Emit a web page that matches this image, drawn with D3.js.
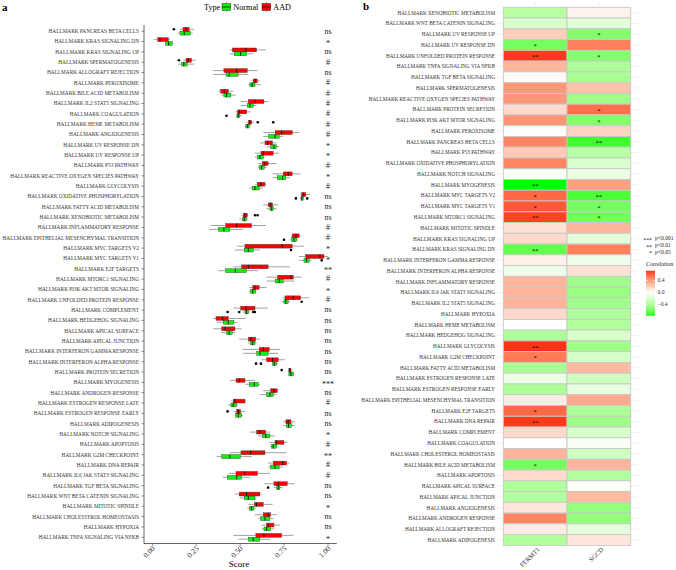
<!DOCTYPE html>
<html><head><meta charset="utf-8">
<script src="https://cdn.jsdelivr.net/npm/d3@7"></script>
<style>body{margin:0;background:#fff}svg{display:block;font-family:"Liberation Serif","Times New Roman",serif}</style>
</head><body><svg id="c" width="676" height="570"></svg>
<script>
const leftCats = ["HALLMARK PANCREAS BETA CELLS","HALLMARK KRAS SIGNALING DN","HALLMARK KRAS SIGNALING UP","HALLMARK SPERMATOGENESIS","HALLMARK ALLOGRAFT REJECTION","HALLMARK PEROXISOME","HALLMARK BILE ACID METABOLISM","HALLMARK IL2 STAT5 SIGNALING","HALLMARK COAGULATION","HALLMARK HEME METABOLISM",
"HALLMARK ANGIOGENESIS","HALLMARK UV RESPONSE DN","HALLMARK UV RESPONSE UP","HALLMARK P53 PATHWAY","HALLMARK REACTIVE OXYGEN SPECIES PATHWAY","HALLMARK GLYCOLYSIS","HALLMARK OXIDATIVE PHOSPHORYLATION","HALLMARK FATTY ACID METABOLISM","HALLMARK XENOBIOTIC METABOLISM","HALLMARK INFLAMMATORY RESPONSE",
"HALLMARK EPITHELIAL MESENCHYMAL TRANSITION","HALLMARK MYC TARGETS V2","HALLMARK MYC TARGETS V1","HALLMARK E2F TARGETS","HALLMARK MTORC1 SIGNALING","HALLMARK PI3K AKT MTOR SIGNALING","HALLMARK UNFOLDED PROTEIN RESPONSE","HALLMARK COMPLEMENT","HALLMARK HEDGEHOG SIGNALING","HALLMARK APICAL SURFACE",
"HALLMARK APICAL JUNCTION","HALLMARK INTERFERON GAMMA RESPONSE","HALLMARK INTERFERON ALPHA RESPONSE","HALLMARK PROTEIN SECRETION","HALLMARK MYOGENESIS","HALLMARK ANDROGEN RESPONSE","HALLMARK ESTROGEN RESPONSE LATE","HALLMARK ESTROGEN RESPONSE EARLY","HALLMARK ADIPOGENESIS","HALLMARK NOTCH SIGNALING",
"HALLMARK APOPTOSIS","HALLMARK G2M CHECKPOINT","HALLMARK DNA REPAIR","HALLMARK IL6 JAK STAT3 SIGNALING","HALLMARK TGF BETA SIGNALING","HALLMARK WNT BETA CATENIN SIGNALING","HALLMARK MITOTIC SPINDLE","HALLMARK CHOLESTEROL HOMEOSTASIS","HALLMARK HYPOXIA","HALLMARK TNFA SIGNALING VIA NFKB"];

// [lower whisker, Q1, median, Q3, upper whisker]
const aadStats = [[0.157,0.174,0.191,0.209,0.236],[0.010,0.030,0.043,0.090,0.100],[0.441,0.455,0.532,0.593,0.646],[0.175,0.191,0.204,0.223,0.246],[0.346,0.407,0.480,0.540,0.599],[0.565,0.574,0.585,0.597,0.612],[0.375,0.388,0.409,0.432,0.460],[0.502,0.546,0.584,0.635,0.660],[0.470,0.485,0.494,0.537,0.559],[0.536,0.546,0.555,0.565,0.580],
[0.631,0.699,0.736,0.796,0.834],[0.612,0.641,0.656,0.684,0.707],[0.584,0.618,0.631,0.688,0.722],[0.602,0.625,0.641,0.659,0.707],[0.684,0.745,0.773,0.796,0.844],[0.584,0.597,0.616,0.641,0.650],[0.840,0.850,0.859,0.874,0.897],[0.631,0.659,0.673,0.684,0.716],[0.508,0.517,0.527,0.540,0.546],[0.333,0.417,0.480,0.565,0.646],
[0.789,0.796,0.817,0.836,0.844],[0.483,0.527,0.739,0.796,0.864],[0.834,0.872,0.954,0.977,1.001],[0.460,0.508,0.546,0.659,0.783],[0.650,0.713,0.789,0.802,0.850],[0.551,0.571,0.584,0.608,0.650],[0.741,0.755,0.802,0.844,0.893],[0.460,0.502,0.532,0.584,0.656],[0.346,0.362,0.400,0.432,0.532],[0.346,0.394,0.413,0.470,0.508],
[0.494,0.546,0.561,0.588,0.612],[0.514,0.608,0.631,0.665,0.726],[0.622,0.650,0.684,0.717,0.755],[0.773,0.777,0.783,0.789,0.798],[0.441,0.476,0.494,0.527,0.584],[0.631,0.673,0.692,0.711,0.716],[0.447,0.460,0.470,0.527,0.536],[0.466,0.479,0.489,0.502,0.527],[0.745,0.760,0.773,0.789,0.811],[0.555,0.593,0.612,0.645,0.669],
[0.665,0.698,0.707,0.749,0.768],[0.441,0.504,0.559,0.641,0.764],[0.660,0.688,0.741,0.764,0.779],[0.432,0.476,0.527,0.599,0.669],[0.637,0.692,0.717,0.768,0.808],[0.470,0.494,0.536,0.612,0.622],[0.546,0.580,0.593,0.631,0.684],[0.584,0.631,0.659,0.673,0.707],[0.622,0.650,0.659,0.692,0.726],[0.460,0.589,0.635,0.736,0.802]];

const normalStats = [[0.144,0.157,0.181,0.216,0.229],[0.071,0.075,0.092,0.113,0.118],[0.441,0.466,0.502,0.536,0.574],[0.147,0.166,0.179,0.198,0.238],[0.346,0.419,0.437,0.489,0.546],[0.546,0.555,0.568,0.584,0.618],[0.394,0.407,0.422,0.447,0.474],[0.502,0.540,0.555,0.574,0.593],[0.476,0.481,0.489,0.498,0.508],[0.526,0.532,0.542,0.551,0.560],
[0.631,0.662,0.698,0.722,0.745],[0.650,0.673,0.692,0.707,0.722],[0.584,0.599,0.612,0.631,0.641],[0.602,0.608,0.622,0.637,0.650],[0.684,0.711,0.741,0.760,0.783],[0.551,0.568,0.584,0.608,0.631],[0.842,0.846,0.851,0.859,0.863],[0.650,0.669,0.679,0.688,0.707],[0.494,0.514,0.523,0.536,0.546],[0.323,0.375,0.407,0.441,0.517],
[0.784,0.793,0.806,0.821,0.830],[0.470,0.523,0.546,0.574,0.612],[0.836,0.863,0.878,0.893,0.907],[0.375,0.417,0.472,0.536,0.603],[0.650,0.699,0.722,0.745,0.808],[0.551,0.559,0.571,0.588,0.593],[0.736,0.749,0.760,0.773,0.783],[0.518,0.527,0.536,0.546,0.556],[0.366,0.403,0.432,0.464,0.485],[0.390,0.422,0.437,0.455,0.470],
[0.546,0.559,0.571,0.584,0.593],[0.517,0.593,0.612,0.659,0.716],[0.679,0.684,0.694,0.707,0.716],[0.773,0.777,0.789,0.802,0.808],[0.527,0.551,0.580,0.603,0.612],[0.612,0.650,0.669,0.688,0.707],[0.432,0.447,0.460,0.479,0.489],[0.470,0.474,0.489,0.508,0.514],[0.745,0.764,0.775,0.793,0.811],[0.602,0.627,0.646,0.669,0.698],
[0.669,0.679,0.688,0.707,0.716],[0.366,0.394,0.441,0.502,0.565],[0.660,0.673,0.698,0.722,0.745],[0.400,0.426,0.480,0.508,0.555],[0.692,0.707,0.717,0.726,0.740],[0.498,0.523,0.546,0.584,0.593],[0.540,0.551,0.565,0.578,0.590],[0.603,0.616,0.641,0.669,0.690],[0.622,0.635,0.650,0.673,0.694],[0.489,0.546,0.574,0.612,0.673]];

// [row index, value]
const aadOutliers = [[0,0.122],[3,0.151],[9,0.600],[9,0.688],[18,0.584],[18,0.599],[33,0.736],[37,0.428]];
const normalOutliers = [[8,0.422],[16,0.817],[16,0.882],[20,0.749],[21,0.789],[22,0.964],[26,0.850],[27,0.428],[27,0.494],[27,0.574],[27,0.584],[32,0.590],[32,0.618],[44,0.659]];

const sigLabels = ["ns","*","ns","#","ns","#","#","#","#","#",
"#","*","*","#","*","#","ns","ns","ns","#",
"#","*","*","**","#","*","#","ns","ns","ns",
"ns","ns","ns","ns","***","ns","#","ns","ns","*",
"#","**","#","#","ns","ns","*","ns","ns","*"];

const scoreTicks = [0, 0.25, 0.5, 0.75, 1.0];
const groups = ["Normal","AAD"];

const heatRows = ["HALLMARK XENOBIOTIC METABOLISM","HALLMARK WNT BETA CATENIN SIGNALING","HALLMARK UV RESPONSE UP","HALLMARK UV RESPONSE DN","HALLMARK UNFOLDED PROTEIN RESPONSE","HALLMARK TNFA SIGNALING VIA NFKB","HALLMARK TGF BETA SIGNALING","HALLMARK SPERMATOGENESIS","HALLMARK REACTIVE OXYGEN SPECIES PATHWAY","HALLMARK PROTEIN SECRETION",
"HALLMARK PI3K AKT MTOR SIGNALING","HALLMARK PEROXISOME","HALLMARK PANCREAS BETA CELLS","HALLMARK P53 PATHWAY","HALLMARK OXIDATIVE PHOSPHORYLATION","HALLMARK NOTCH SIGNALING","HALLMARK MYOGENESIS","HALLMARK MYC TARGETS V2","HALLMARK MYC TARGETS V1","HALLMARK MTORC1 SIGNALING",
"HALLMARK MITOTIC SPINDLE","HALLMARK KRAS SIGNALING UP","HALLMARK KRAS SIGNALING DN","HALLMARK INTERFERON GAMMA RESPONSE","HALLMARK INTERFERON ALPHA RESPONSE","HALLMARK INFLAMMATORY RESPONSE","HALLMARK IL6 JAK STAT3 SIGNALING","HALLMARK IL2 STAT5 SIGNALING","HALLMARK HYPOXIA","HALLMARK HEME METABOLISM",
"HALLMARK HEDGEHOG SIGNALING","HALLMARK GLYCOLYSIS","HALLMARK G2M CHECKPOINT","HALLMARK FATTY ACID METABOLISM","HALLMARK ESTROGEN RESPONSE LATE","HALLMARK ESTROGEN RESPONSE EARLY","HALLMARK EPITHELIAL MESENCHYMAL TRANSITION","HALLMARK E2F TARGETS","HALLMARK DNA REPAIR","HALLMARK COMPLEMENT",
"HALLMARK COAGULATION","HALLMARK CHOLESTEROL HOMEOSTASIS","HALLMARK BILE ACID METABOLISM","HALLMARK APOPTOSIS","HALLMARK APICAL SURFACE","HALLMARK APICAL JUNCTION","HALLMARK ANGIOGENESIS","HALLMARK ANDROGEN RESPONSE","HALLMARK ALLOGRAFT REJECTION","HALLMARK ADIPOGENESIS"];
const genes = ["FERMT1","SGCD"];
const fermt1Vals = [-0.35,-0.2,0.2,-0.6,0.7,0.3,0.02,0.42,0.42,0.15,
0.42,0.01,0.48,0.22,0.48,-0.05,-0.77,0.58,0.63,0.68,
0.12,0.15,-0.65,0.06,-0.08,0.3,0.3,0.3,0.15,0.0,
-0.4,0.72,0.52,-0.42,-0.1,-0.4,0.08,0.58,0.7,0.15,
0.0,0.3,-0.6,0.15,-0.38,-0.38,0.1,0.48,0.08,-0.38];
const sgcdVals = [0.05,-0.15,-0.55,0.5,-0.55,-0.4,-0.42,0.25,-0.45,0.55,
-0.55,0.18,-0.72,-0.35,-0.2,-0.1,0.38,-0.7,-0.6,-0.6,
0.3,-0.15,0.5,-0.08,0.12,-0.45,-0.48,-0.45,-0.38,-0.38,
-0.2,-0.45,-0.22,0.28,-0.25,-0.12,0.35,-0.4,-0.45,-0.2,
-0.04,-0.25,0.3,-0.38,-0.03,0.28,-0.5,-0.5,-0.15,0.1];
const fermt1Sig = ["","","","*","**","","","","","",
"","","","","","","**","*","*","**",
"","","**","","","","","","","",
"","**","*","","","","","*","**","",
"","","*","","","","","","",""];
const sgcdSig = ["","","*","","*","","","","","*",
"*","","**","","","","","**","*","*",
"","","","","","","","","","",
"","","","","","","","","","",
"","","","","","","","","",""];
const sigKey = [["***","p<0.001"],["**","p<0.01"],["*","p<0.05"]];
const corTicks = [0.4, 0.0, -0.4];

const svg = d3.select("#c");
const FILL = {AAD:"#FF0000", Normal:"#11EE11"};

// ---------- Panel a ----------
const x = d3.scaleLinear().domain([-0.048, 1.05]).range([144, 336.8]);
const y = d3.scalePoint().domain(leftCats).range([25, 543.5]).padding(0.6);
const step = y.step();
const bw = step*0.75/2;

svg.append("text").attr("x",2).attr("y",11).attr("font-size",11).attr("font-weight","bold").text("a");

const ga = svg.append("g");
ga.selectAll("text.cat").data(leftCats).join("text")
  .attr("x",139).attr("y",d=>y(d)).attr("dy","0.35em").attr("text-anchor","end")
  .attr("font-size",5.3).attr("fill","#333").text(d=>d);
ga.selectAll("line.ytick").data(leftCats).join("line")
  .attr("x1",141.3).attr("x2",144).attr("y1",d=>y(d)).attr("y2",d=>y(d)).attr("stroke","#333").attr("stroke-width",0.5);

function drawBoxes(stats, grp, off){
  const g = ga.append("g");
  stats.forEach((s,i)=>{
    const cy = y(leftCats[i]) + off;
    g.append("line").attr("x1",x(s[0])).attr("x2",x(s[1])).attr("y1",cy).attr("y2",cy).attr("stroke","#8a8a8a").attr("stroke-width",0.8);
    g.append("line").attr("x1",x(s[3])).attr("x2",x(s[4])).attr("y1",cy).attr("y2",cy).attr("stroke","#8a8a8a").attr("stroke-width",0.8);
    g.append("rect").attr("x",x(s[1])).attr("y",cy-bw/2).attr("width",x(s[3])-x(s[1])).attr("height",bw)
      .attr("fill",FILL[grp]).attr("stroke","#3a3a3a").attr("stroke-width",0.4);
    g.append("line").attr("x1",x(s[2])).attr("x2",x(s[2])).attr("y1",cy-bw/2).attr("y2",cy+bw/2).attr("stroke","#111").attr("stroke-width",0.9);
  });
}
drawBoxes(normalStats,"Normal", bw/2);
drawBoxes(aadStats,"AAD", -bw/2);
ga.selectAll("circle.oa").data(aadOutliers).join("circle")
  .attr("cx",d=>x(d[1])).attr("cy",d=>y(leftCats[d[0]])-bw/2).attr("r",1.3).attr("fill","#000");
ga.selectAll("circle.on").data(normalOutliers).join("circle")
  .attr("cx",d=>x(d[1])).attr("cy",d=>y(leftCats[d[0]])+bw/2).attr("r",1.3).attr("fill","#000");

// significance
ga.selectAll("text.sig").data(sigLabels).join("text")
  .attr("x",x(1.0)).attr("y",(d,i)=>y(leftCats[i]) + (d.startsWith("*")?4.2:2.4)).attr("text-anchor","middle")
  .attr("font-size",8).attr("fill","#222").text(d=>d);

// axes
ga.append("line").attr("x1",144).attr("x2",144).attr("y1",25).attr("y2",543.5).attr("stroke","#000").attr("stroke-width",0.6);
ga.append("line").attr("x1",144).attr("x2",336.8).attr("y1",543.5).attr("y2",543.5).attr("stroke","#000").attr("stroke-width",0.6);
ga.selectAll("line.xt").data(scoreTicks).join("line").attr("x1",d=>x(d)).attr("x2",d=>x(d)).attr("y1",543.5).attr("y2",546).attr("stroke","#333").attr("stroke-width",0.5);
ga.selectAll("text.xt").data(scoreTicks).join("text")
  .attr("transform",d=>`translate(${x(d)+3},${549}) rotate(-45)`).attr("text-anchor","end")
  .attr("font-size",7.5).attr("fill","#333").text(d=>d3.format(".2f")(d));
ga.append("text").attr("x",239).attr("y",567).attr("text-anchor","middle").attr("font-size",9).text("Score");

// legend
const lg = svg.append("g");
lg.append("text").attr("x",204).attr("y",9.5).attr("font-size",8.2).text("Type");
[["Normal",222,233.3],["AAD",262,273.3]].forEach(([gname,kx,tx])=>{
  lg.append("line").attr("x1",kx+4.3).attr("x2",kx+4.3).attr("y1",2).attr("y2",12).attr("stroke","#555").attr("stroke-width",0.6);
  lg.append("rect").attr("x",kx).attr("y",3.5).attr("width",8.7).attr("height",7).attr("fill",FILL[gname]).attr("stroke","#333").attr("stroke-width",0.5);
  lg.append("line").attr("x1",kx).attr("x2",kx+8.7).attr("y1",7).attr("y2",7).attr("stroke","#111").attr("stroke-width",0.8);
  lg.append("text").attr("x",tx).attr("y",9.5).attr("font-size",8.2).text(gname);
});

// ---------- Panel b ----------
svg.append("text").attr("x",363).attr("y",10).attr("font-size",11).attr("font-weight","bold").text("b");
const gb = svg.append("g");
const hx = d3.scaleBand().domain(genes).range([503.3, 630.7]);
const hy = d3.scaleBand().domain(heatRows).range([7.3, 545.4]);
const allVals = fermt1Vals.concat(sgcdVals);
const M = d3.max(allVals, v=>Math.abs(v));
const col = d3.scaleLinear().domain([-M,0,M]).range(["#00FF00","#FFFFFF","#FF0000"]).interpolate(d3.interpolateLab);

gb.selectAll("line.hg").data(heatRows).join("line")
  .attr("x1",497).attr("x2",638).attr("y1",d=>hy(d)+hy.bandwidth()/2).attr("y2",d=>hy(d)+hy.bandwidth()/2)
  .attr("stroke","#e6e6e6").attr("stroke-width",0.6);
gb.selectAll("line.vg").data(genes).join("line")
  .attr("x1",d=>hx(d)+hx.bandwidth()/2).attr("x2",d=>hx(d)+hx.bandwidth()/2).attr("y1",2).attr("y2",551)
  .attr("stroke","#e6e6e6").attr("stroke-width",0.6);

const cells = [];
heatRows.forEach((r,i)=>{
  cells.push({row:r, gene:"FERMT1", v:fermt1Vals[i], s:fermt1Sig[i]});
  cells.push({row:r, gene:"SGCD", v:sgcdVals[i], s:sgcdSig[i]});
});
gb.selectAll("rect.cell").data(cells).join("rect")
  .attr("x",d=>hx(d.gene)).attr("y",d=>hy(d.row)).attr("width",hx.bandwidth()).attr("height",hy.bandwidth())
  .attr("fill",d=>col(d.v)).attr("stroke","#c8c8c8").attr("stroke-width",0.9);
gb.selectAll("text.st").data(cells.filter(d=>d.s)).join("text")
  .attr("x",d=>hx(d.gene)+hx.bandwidth()/2).attr("y",d=>hy(d.row)+hy.bandwidth()/2+3.2)
  .attr("text-anchor","middle").attr("font-size",6.5).attr("fill","#000").text(d=>d.s);

gb.selectAll("text.hr").data(heatRows).join("text")
  .attr("x",495).attr("y",d=>hy(d)+hy.bandwidth()/2).attr("dy","0.35em").attr("text-anchor","end")
  .attr("font-size",5.2).attr("fill","#333").text(d=>d);
gb.selectAll("text.gn").data(genes).join("text")
  .attr("transform",d=>`translate(${hx(d)+hx.bandwidth()/2+5},${550}) rotate(-45)`).attr("text-anchor","end")
  .attr("font-size",6.5).attr("fill","#333").text(d=>d);

sigKey.forEach((k,i)=>{
  const yy = 240.3 + i*6.8;
  gb.append("text").attr("x",652).attr("y",yy+1.5).attr("text-anchor","end").attr("font-size",5.8).attr("fill","#222").text(k[0]);
  gb.append("text").attr("x",655).attr("y",yy).attr("font-size",5.6).attr("fill","#222").text(k[1]);
});

const vmin = d3.min(allVals), vmax = d3.max(allVals);
const ly = d3.scaleLinear().domain([vmin, vmax]).range([315.7, 270.7]);
gb.append("text").attr("x",646).attr("y",266).attr("font-size",6).attr("fill","#222").text("Correlation");
const defs = svg.append("defs");
const grad = defs.append("linearGradient").attr("id","cg").attr("x1",0).attr("y1",1).attr("x2",0).attr("y2",0);
d3.range(0,21).forEach(k=>{
  const v = vmin + (vmax-vmin)*k/20;
  grad.append("stop").attr("offset",k/20).attr("stop-color",col(v));
});
gb.append("rect").attr("x",646).attr("y",270.7).attr("width",9).attr("height",45).attr("fill","url(#cg)");
corTicks.forEach(t=>{
  gb.append("line").attr("x1",646).attr("x2",648).attr("y1",ly(t)).attr("y2",ly(t)).attr("stroke","#fff").attr("stroke-width",0.6);
  gb.append("line").attr("x1",653).attr("x2",655).attr("y1",ly(t)).attr("y2",ly(t)).attr("stroke","#fff").attr("stroke-width",0.6);
  gb.append("text").attr("x",657.5).attr("y",ly(t)).attr("dy","0.35em").attr("font-size",5.6).attr("fill","#333").text(d3.format(".1f")(t));
});
</script></body></html>
